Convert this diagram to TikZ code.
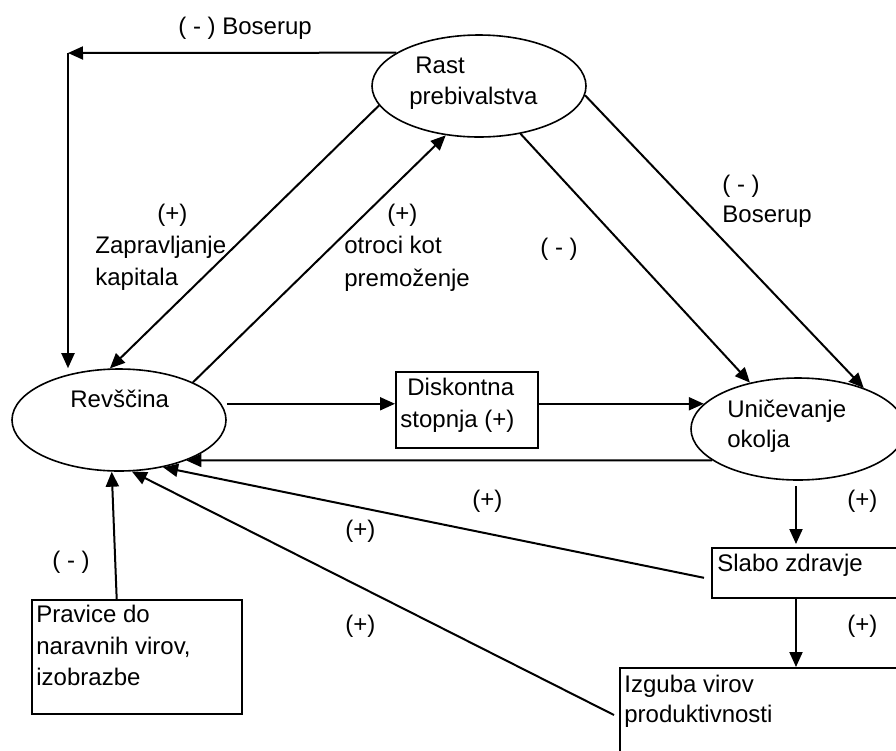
\documentclass[tikz,border=0pt]{standalone}
\usepackage{fontspec}
\setmainfont{Liberation Sans}
\usetikzlibrary{shapes.geometric,arrows.meta,calc}
\begin{document}
\begin{tikzpicture}[x=0.5pt,y=-0.5pt,
  txt/.style={anchor=base west,inner sep=0pt,font=\fontsize{12}{14}\selectfont},
  ell/.style={ellipse,draw,line width=0.8pt,minimum width=107pt,minimum height=51pt,inner sep=0pt},
  boxx/.style={rectangle,draw,line width=0.8pt,anchor=north west,inner sep=0pt},
  conn/.style={line width=1pt,-{Triangle[length=7.5pt,width=6.5pt]}},
  plainline/.style={line width=1pt}]
\useasboundingbox (0,0) rectangle (896,751);
% shapes
\node[ell] (rast) at (479,86) {};
\node[ell] (revs) at (119,420) {};
\node[ell] (unic) at (798,429) {};
\node[boxx,minimum width=71pt,minimum height=38pt] (disk) at (395,371) {};
\node[boxx,minimum width=105pt,minimum height=57pt] (prav) at (31,599) {};
\node[boxx,minimum width=94pt,minimum height=25pt] (slabo) at (711,547) {};
\node[boxx,minimum width=143pt,minimum height=47pt] (izg) at (619,667) {};
% texts
\node[txt] (tboser) at (178,34) {( - ) Boserup};
\node[txt] (trast1) at (415,73) {Rast};
\node[txt] (trast2) at (409,104) {prebivalstva};
\node[txt] (tzp) at (157,221) {(+)};
\node[txt] (tz1) at (95,253) {Zapravljanje};
\node[txt] (tz2) at (95,285) {kapitala};
\node[txt] (top) at (387,221) {(+)};
\node[txt] (to1) at (344,253) {otroci kot};
\node[txt] (to2) at (344,286) {premoženje};
\node[txt] (tmid) at (540,255) {( - )};
\node[txt] (tbm) at (722,192) {( - )};
\node[txt] (tbb) at (722,222) {Boserup};
\node[txt] (trevs) at (70,407) {Revščina};
\node[txt] (td1) at (407,395) {Diskontna};
\node[txt] (td2) at (400,427) {stopnja (+)};
\node[txt] (tu1) at (727,417) {Uničevanje};
\node[txt] (tu2) at (727,447) {okolja};
\node[txt] (tp1) at (847,507) {(+)};
\node[txt] (tp2) at (472,507) {(+)};
\node[txt] (tp3) at (345,537) {(+)};
\node[txt] (tm2) at (52,568) {( - )};
\node[txt] (tpr1) at (36,622) {Pravice do};
\node[txt] (tpr2) at (36,654) {naravnih virov,};
\node[txt] (tpr3) at (36,685) {izobrazbe};
\node[txt] (tp4) at (345,632) {(+)};
\node[txt] (tsz) at (717,571) {Slabo zdravje};
\node[txt] (tp5) at (847,632) {(+)};
\node[txt] (tiz1) at (624,692) {Izguba virov};
\node[txt] (tiz2) at (624,722) {produktivnosti};
% connectors
\coordinate (corner) at (68,53);
\draw[conn] (rast.158) -- (corner);
\draw[conn] (corner) -- (corner |- revs.north);
\draw[conn] (rast.191) -- (revs.100);
\draw[conn] (revs.27) -- (rast.236);
\draw[conn] (rast.311) -- (unic.136);
\draw[conn] (rast.355) -- (unic.32);
\draw[conn] (revs.east |- unic.165) -- (disk.west |- unic.165);
\draw[conn] (disk.east |- unic.165) -- (unic.165);
\draw[conn] (unic.200) -- (revs.329);
\draw[conn] ($(slabo.west)+(-7,5)$) -- (revs.313);
\draw[conn] ($(izg.north west)+(-5,48)$) -- (revs.284);
\draw[conn] ($(prav.north west)!0.405!(prav.north east)$) -- (revs.262);
\draw[conn] ($(unic.south)+(-2,5)$) -- ($(unic.south |- slabo.north)+(-2,-3)$);
\draw[conn] ($(unic.south |- slabo.south)+(-2,0)$) -- ($(unic.south |- izg.north)+(-2,0)$);
\end{tikzpicture}
\end{document}
